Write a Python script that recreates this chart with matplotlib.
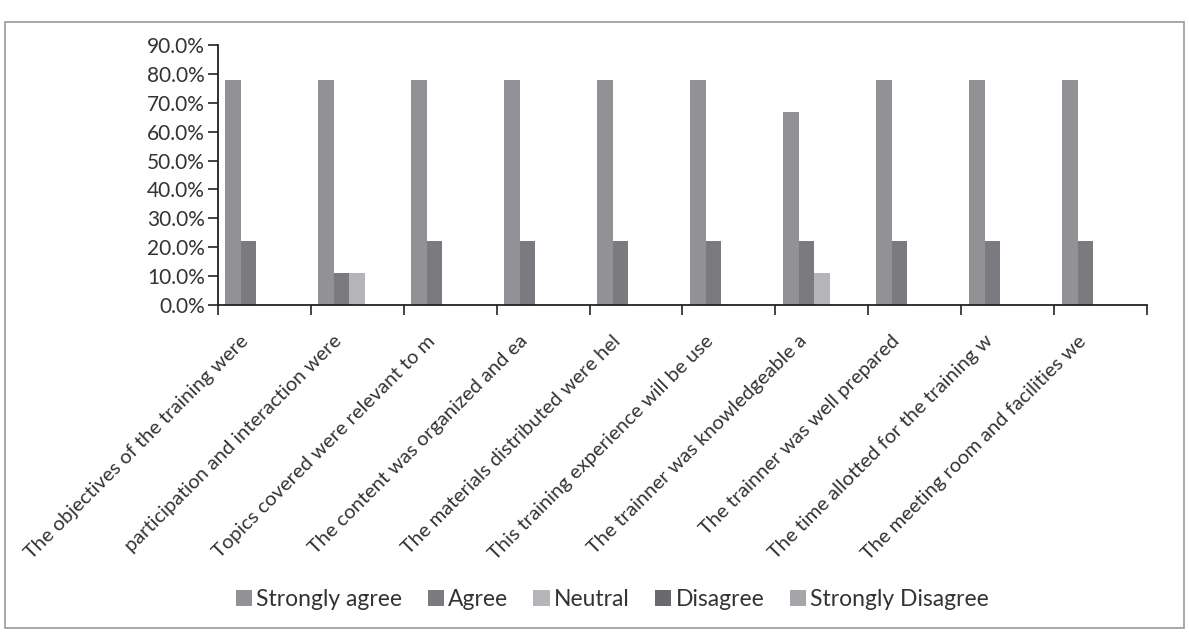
import numpy as np
import matplotlib
matplotlib.use("Agg")
import matplotlib.pyplot as plt
from matplotlib.patches import Rectangle
from matplotlib.ticker import PercentFormatter
from matplotlib.transforms import ScaledTranslation

plt.rcParams['font.family'] = ['Lato', 'DejaVu Sans']

categories = [
    "The objectives of the training were",
    "participation and interaction were",
    "Topics covered were relevant to m",
    "The content was organized and ea",
    "The materials distributed were hel",
    "This training experience will be use",
    "The trainner was knowledgeable a",
    "The trainner was well prepared",
    "The time allotted for the training w",
    "The meeting room and facilities we",
]
series = ["Strongly agree", "Agree", "Neutral", "Disagree", "Strongly Disagree"]

# percentages (9 respondents)
strongly_agree = [77.8, 77.8, 77.8, 77.8, 77.8, 77.8, 66.7, 77.8, 77.8, 77.8]
agree = [22.2, 11.1, 22.2, 22.2, 22.2, 22.2, 22.2, 22.2, 22.2, 22.2]
neutral = [0.0, 11.1, 0.0, 0.0, 0.0, 0.0, 11.1, 0.0, 0.0, 0.0]
disagree = [0.0] * 10
strongly_disagree = [0.0] * 10
values = [strongly_agree, agree, neutral, disagree, strongly_disagree]

colors = ['#919196', '#7a7a7f', '#b5b5b9', '#69696e', '#a5a5aa']

fig = plt.figure(figsize=(11.89, 6.41), dpi=100)
ax = fig.add_axes([0.183, 0.524, 0.782, 0.406])

x = np.arange(len(categories))
w = 1 / 6
for i, (name, vals) in enumerate(zip(series, values)):
    ax.bar(x + (i - 2) * w, vals, width=w, color=colors[i], label=name)

ax.set_xlim(-0.5, len(categories) - 0.5)
ax.set_ylim(0, 90)
ax.set_yticks(np.arange(0, 91, 10))
ax.yaxis.set_major_formatter(PercentFormatter(decimals=1))

ax.set_xticks(x)
ax.set_xticklabels(categories, rotation=45, ha='right', rotation_mode='anchor', fontsize=14.5,
                   color='#333333')
ax.set_xticks(np.arange(-0.5, len(categories)), minor=True)
ax.tick_params(axis='x', which='major', length=0, pad=19.5)
ax.tick_params(axis='x', which='minor', length=7, width=1.2, color='#222222')
ax.tick_params(axis='y', length=7, width=1.2, color='#222222', labelsize=15,
               labelcolor='#333333', pad=2)

# shift the rotated labels a bit left, like the original (after tick_params)
shift = ScaledTranslation(-24 / 100, 0, fig.dpi_scale_trans)
for lab in ax.get_xticklabels():
    lab.set_transform(lab.get_transform() + shift)

for side in ['top', 'right']:
    ax.spines[side].set_visible(False)
for side in ['left', 'bottom']:
    ax.spines[side].set_color('#222222')
    ax.spines[side].set_linewidth(1.3)

fig.legend(loc='center', bbox_to_anchor=(0.515, 0.064), ncol=5, frameon=False,
           fontsize=16.5, handlelength=0.7, handleheight=0.7, handletextpad=0.2,
           columnspacing=1.1, labelcolor='#333333')

fig.patches.append(Rectangle((0.004, 0.02), 0.992, 0.945, transform=fig.transFigure,
                             fill=False, edgecolor='#9a9a9a', linewidth=1.2))

fig.savefig('out.png', dpi=100, facecolor='white')
